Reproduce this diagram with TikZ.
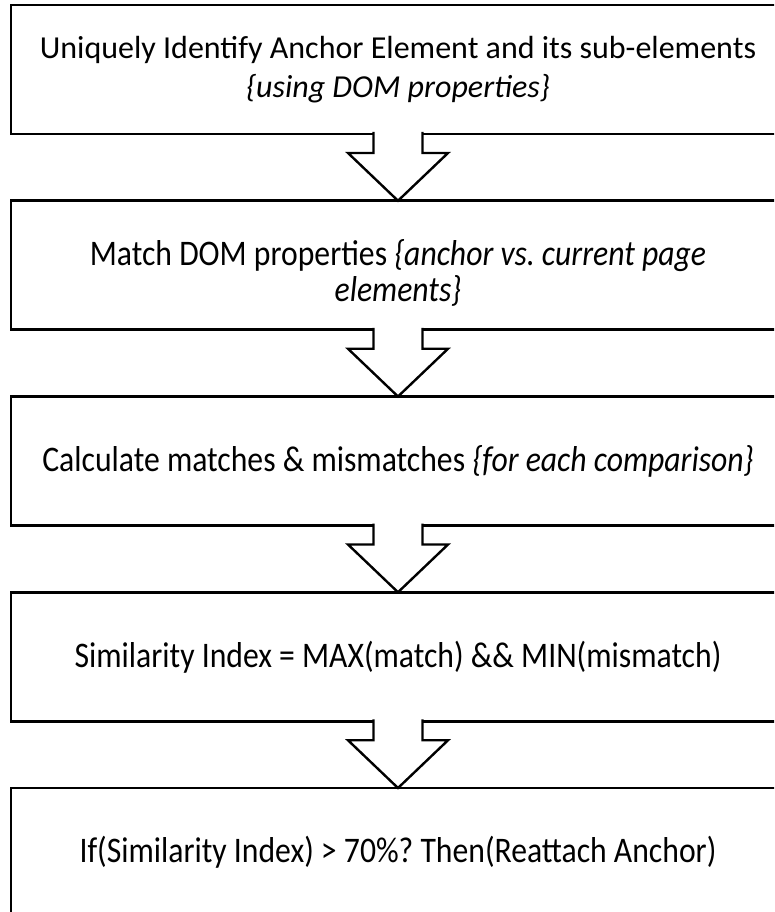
\documentclass[tikz,border=0pt]{standalone}
\usepackage{fontspec}
\setmainfont{Carlito}
\newfontfamily\tallfont[FakeStretch=0.88]{Carlito}
\usetikzlibrary{calc}
\frenchspacing

% one hollow block arrow from the bottom of box #1 to the top of box #2
\newcommand\blockarrow[2]{%
  \draw[flowarrow]
    ($(#1.south)+(-24.5,-2)$) -- ++(0,21) -- ++(-25.5,0)
    -- (#2.north)
    -- ($(#1.south)+(50,19)$) -- ++(-25.5,0) -- ++(0,-21);
}

\begin{document}
\begin{tikzpicture}[x=1pt,y=-1pt,
  stepbox/.style={draw, line width=2.8pt, minimum width=774pt,
    minimum height=129pt, outer sep=0pt, inner sep=0pt},
  firsttext/.style={align=center, inner sep=0pt,
    font=\fontsize{32pt}{39pt}\selectfont},
  steptext/.style={align=center, inner sep=0pt,
    font=\tallfont\fontsize{36pt}{36pt}\selectfont},
  flowarrow/.style={draw, fill=white, line width=2.4pt, line join=miter}]
\useasboundingbox (0,0) rectangle (774,912);
\clip (0,0) rectangle (774,912);

% process steps
\node[stepbox] (b1) at (398,69.5) {};
\node[stepbox] (b2) at (398,265.25) {};
\node[stepbox] (b3) at (398,461) {};
\node[stepbox] (b4) at (398,656.75) {};
\node[stepbox] (b5) at (398,852.5) {};

% step texts
\node[firsttext] (t1) at (b1.center)
  {Uniquely Identify Anchor Element and its sub-elements\\
   \textit{\{using DOM properties\}}};
\node[steptext] (t2) at ($(b2.center)+(0,7.5)$)
  {Match DOM properties \textit{\{anchor vs.\ current page}\\
   \textit{elements\}}};
\node[steptext] (t3) at (b3.center)
  {Calculate matches \& mismatches \textit{\{for each comparison\}}};
\node[steptext] (t4) at (b4.center)
  {Similarity Index = MAX(match) \&\& MIN(mismatch)};
\node[steptext] (t5) at (b5.center)
  {If(Similarity Index) > 70\%? Then(Reattach Anchor)};

% arrows between steps
\blockarrow{b1}{b2}
\blockarrow{b2}{b3}
\blockarrow{b3}{b4}
\blockarrow{b4}{b5}
\end{tikzpicture}
\end{document}
